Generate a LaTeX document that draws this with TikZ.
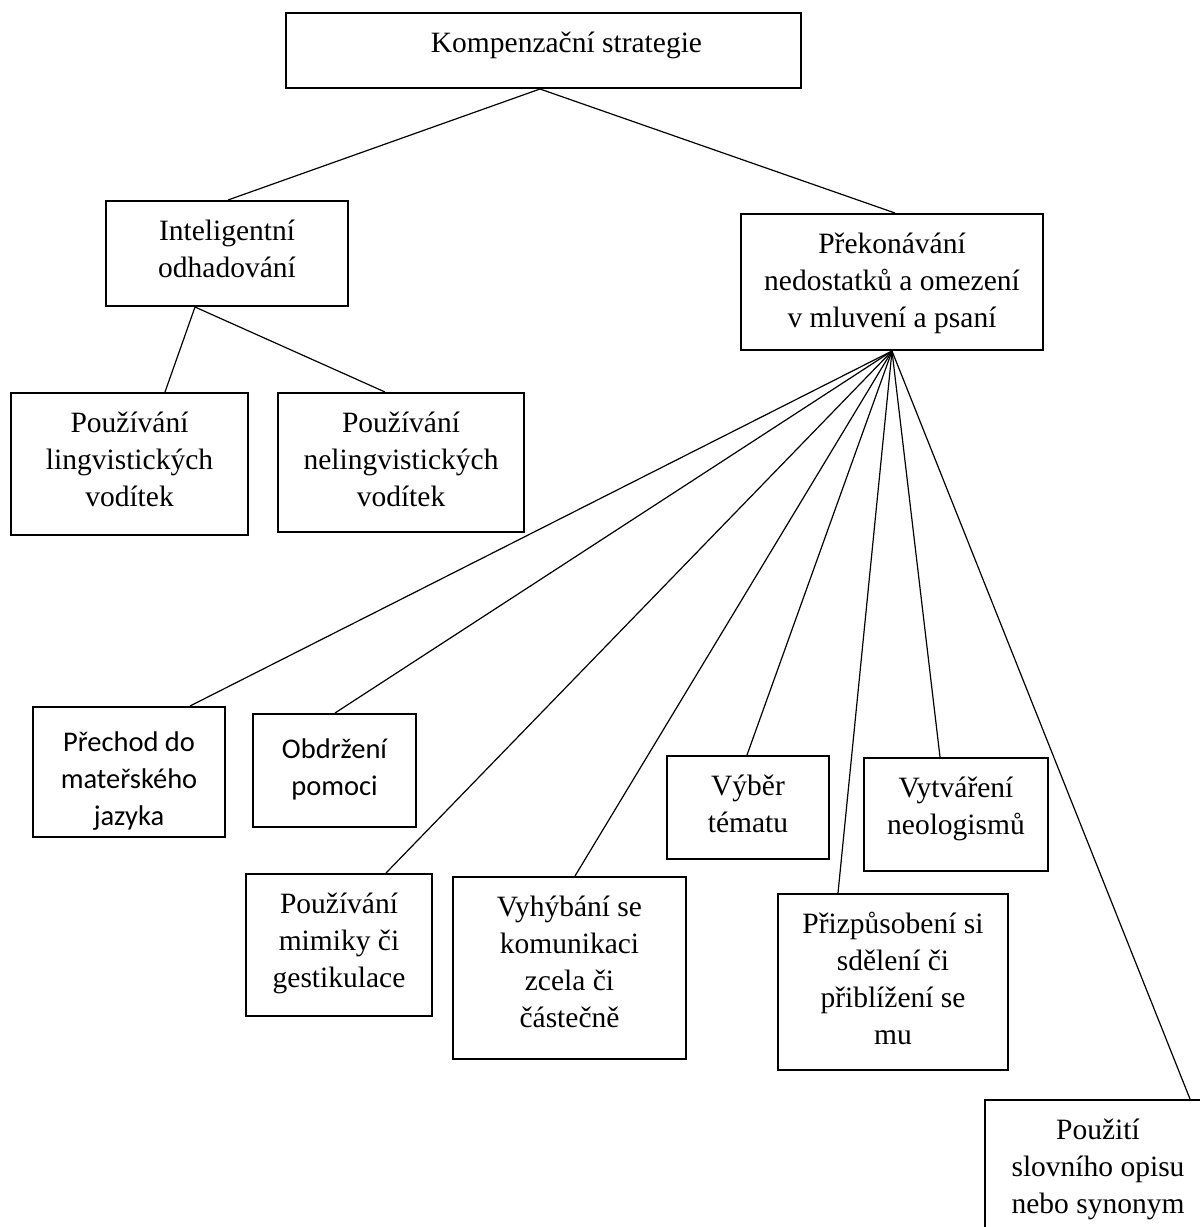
\documentclass[tikz,border=0pt]{standalone}
\usepackage{fontspec}
\setmainfont{Liberation Serif}
\newfontfamily\calfont{Carlito}
\usetikzlibrary{calc}

% box content: fixed-size parbox, text hung from the top edge
\newcommand\boxtext[3]{\parbox[c][#2][t]{#1}{\centering\rule{0pt}{39pt}#3}}
\newcommand\sansboxtext[3]{\parbox[c][#2][t]{#1}{\centering\rule{0pt}{44pt}#3}}

\tikzset{
  stratbox/.style={draw, line width=2pt, inner sep=0pt, anchor=north west,
    font=\fontsize{29.5}{37}\selectfont},
  sansbox/.style={stratbox, font=\calfont\fontsize{28.5}{37}\selectfont},
  link/.style={line width=1.2pt}
}

\begin{document}
\begin{tikzpicture}[x=1pt,y=-1pt]
\useasboundingbox (0,0) rectangle (1200,1227);
\fill[white] (0,0) rectangle (1200,1227);
\clip (0,0) rectangle (1200,1227);

% root and the two main branches
\node[stratbox] (top) at (285,12) {\boxtext{515pt}{75pt}{\hspace*{46pt}Kompenzační strategie}};
\node[stratbox] (intel) at (105,200) {\boxtext{242pt}{105pt}{Inteligentní\\odhadování}};
\node[stratbox] (prek) at (740,213) {\boxtext{302pt}{136pt}{Překonávání\\nedostatků a omezení\\v mluvení a psaní}};

% guessing
\node[stratbox] (ling) at (10,392) {\boxtext{237pt}{142pt}{Používání\\lingvistických\\vodítek}};
\node[stratbox] (neling) at (277,392) {\boxtext{246pt}{139pt}{Používání\\nelingvistických\\vodítek}};

% overcoming limitations
\node[sansbox] (prech) at (32,706) {\sansboxtext{192pt}{130pt}{Přechod do\\mateřského\\jazyka}};
\node[sansbox] (obdr) at (252,713) {\sansboxtext{163pt}{113pt}{Obdržení\\pomoci}};
\node[stratbox] (vyber) at (666,755) {\boxtext{162pt}{103pt}{Výběr\\tématu}};
\node[stratbox] (vytv) at (863,757) {\boxtext{184pt}{113pt}{Vytváření\\neologismů}};
\node[stratbox] (mimik) at (245,873) {\boxtext{186pt}{142pt}{Používání\\mimiky či\\gestikulace}};
\node[stratbox] (vyhyb) at (452,876) {\boxtext{233pt}{182pt}{Vyhýbání se\\komunikaci\\zcela či\\částečně}};
\node[stratbox] (prizp) at (777,893) {\boxtext{230pt}{176pt}{Přizpůsobení si\\sdělení či\\přiblížení se\\mu}};
\node[stratbox] (pouz) at (984,1099) {\boxtext{226pt}{161pt}{Použití\\slovního opisu\\nebo synonym}};

% connectors
\coordinate (topfoot) at ($(top.south west)+(255,0)$);
\coordinate (intelfoot) at ($(intel.south west)+(90,0)$);
\coordinate (prekfoot) at ($(prek.south west)+(152,0)$);

\draw[link] (topfoot) -- ($(intel.north west)+(123,0)$);
\draw[link] (topfoot) -- ($(prek.north west)+(155,0)$);

\draw[link] (intelfoot) -- ($(ling.north west)+(155,0)$);
\draw[link] (intelfoot) -- ($(neling.north west)+(108,0)$);

\draw[link] (prekfoot) -- ($(prech.north west)+(158,0)$);
\draw[link] (prekfoot) -- ($(obdr.north west)+(83,0)$);
\draw[link] (prekfoot) -- ($(mimik.north west)+(141,0)$);
\draw[link] (prekfoot) -- ($(vyhyb.north west)+(123,0)$);
\draw[link] (prekfoot) -- ($(vyber.north west)+(81,0)$);
\draw[link] (prekfoot) -- ($(prizp.north west)+(61,0)$);
\draw[link] (prekfoot) -- ($(vytv.north west)+(77,0)$);
\draw[link] (prekfoot) -- ($(pouz.north west)+(206,0)$);
\end{tikzpicture}
\end{document}
